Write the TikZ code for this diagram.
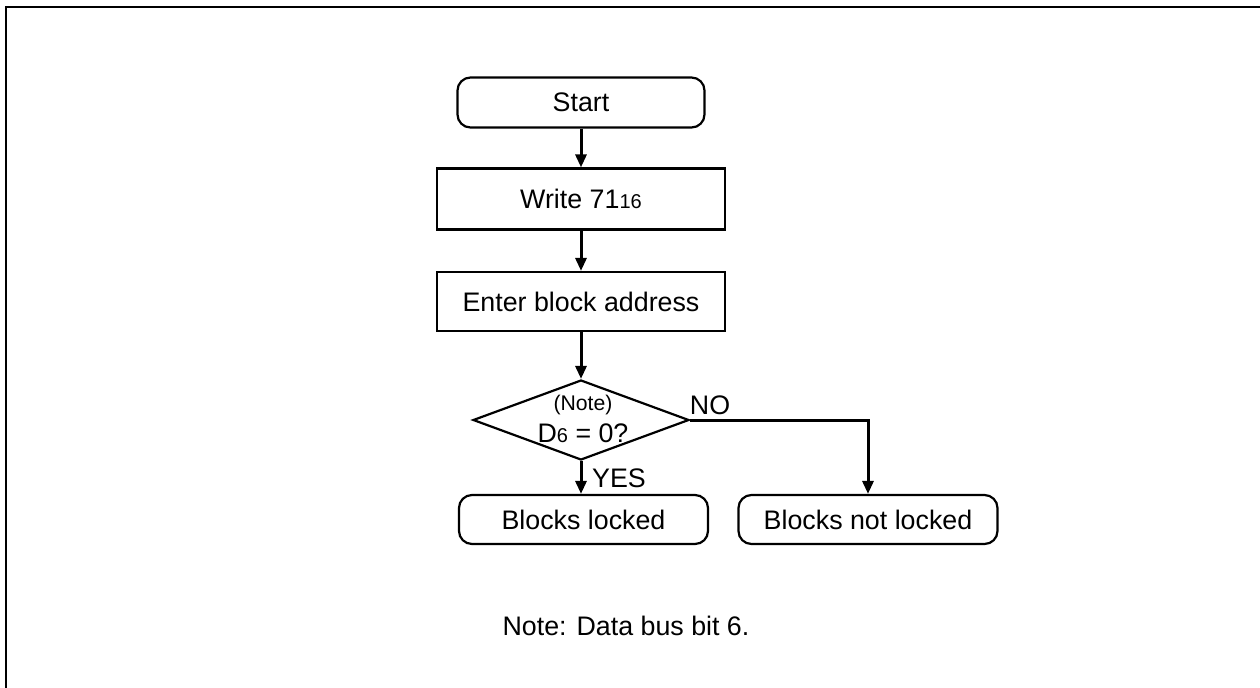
\documentclass[tikz,border=0pt]{standalone}
\usepackage{fontspec}
\setmainfont{Liberation Sans}
\usetikzlibrary{shapes.geometric,arrows.meta}
\begin{document}
\begin{tikzpicture}[x=0.5pt,y=-0.5pt,
  font=\fontsize{13.4}{16}\selectfont,
  box/.style={draw,line width=1.1pt,inner sep=0,minimum width=144pt},
  rbox/.style={draw,line width=1.1pt,rounded corners=6.5pt,inner sep=0,minimum height=24.5pt},
  flow/.style={line width=1.5pt,-{Triangle[length=6.5pt,width=5.5pt]}},
  lbl/.style={inner sep=0}]
\useasboundingbox (0,0) rectangle (1260,687);
\draw[line width=1.3pt] (6,700) -- (6,7) -- (1270,7);

\node[rbox,minimum width=123.5pt,minimum height=25pt] (start) at (581,102.5) {Start};
\node[box,minimum height=30.5pt] (write) at (581,199) {Write 71{\fontsize{10}{12}\selectfont 16}};
\node[box,minimum height=29.5pt] (enter) at (581,301.5) {Enter block address};
\node[diamond,draw,line width=1.1pt,inner sep=0,minimum width=108pt,minimum height=40pt] (dec) at (581,420) {};
\node[lbl,font=\fontsize{10.6}{12}\selectfont] (note) at (583,405) {(Note)};
\node[lbl] (cond) at (583,433) {D{\fontsize{10}{12}\selectfont 6} = 0?};
\node[rbox,minimum width=124.5pt] (locked) at (583.5,519.5) {Blocks locked};
\node[rbox,minimum width=129.5pt] (notl) at (868,519.5) {Blocks not locked};
\node[lbl] (no) at (710,405) {NO};
\node[lbl] (yes) at (619,478) {YES};
\node[lbl] (foot) at (626,626) {Note: Data bus bit 6.};

\draw[flow] (start) -- (write);
\draw[flow] (write) -- (enter);
\draw[flow] (enter) -- (dec.north);
\draw[flow] (dec.south) -- (dec.south |- locked.north);
\draw[flow] (dec.east) -| (notl.north);
\end{tikzpicture}
\end{document}
